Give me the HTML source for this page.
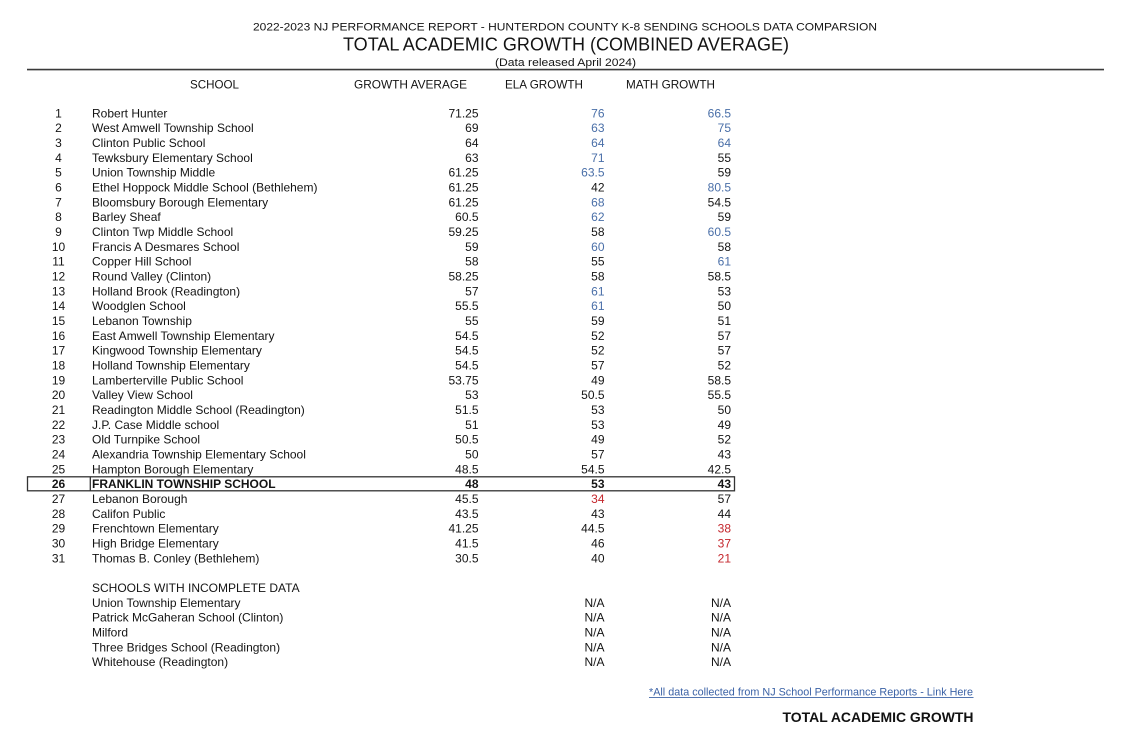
<!DOCTYPE html>
<html><head><meta charset="utf-8"><style>
html,body{margin:0;padding:0;background:#fff;}
svg{display:block;}
text{font-family:"Liberation Sans",Arial,sans-serif;fill:#141414;}
.r{font-size:12px;}
.n{font-size:12px;text-anchor:end;}
.c{font-size:12px;text-anchor:middle;}
.b{fill:#4a6fa8;}
.red{fill:#c4262c;}
</style></head><body>
<svg width="1124" height="739" viewBox="0 0 1124 739" xmlns="http://www.w3.org/2000/svg">
<rect width="1124" height="739" fill="#fff"/>
<text x="253" y="30.7" font-size="11.3" textLength="624" lengthAdjust="spacingAndGlyphs">2022-2023 NJ PERFORMANCE REPORT - HUNTERDON COUNTY K-8 SENDING SCHOOLS DATA COMPARSION</text>
<text x="343" y="50.7" font-size="18.6" textLength="446" lengthAdjust="spacingAndGlyphs">TOTAL ACADEMIC GROWTH (COMBINED AVERAGE)</text>
<text x="495" y="66" font-size="11" textLength="141" lengthAdjust="spacingAndGlyphs">(Data released April 2024)</text>
<line x1="27" y1="69.6" x2="1104" y2="69.6" stroke="#3a3a3a" stroke-width="1.6"/>
<text x="190" y="88.3" font-size="11.6" textLength="49" lengthAdjust="spacingAndGlyphs">SCHOOL</text>
<text x="354" y="88.3" font-size="11.6" textLength="113" lengthAdjust="spacingAndGlyphs">GROWTH AVERAGE</text>
<text x="505" y="88.3" font-size="11.6" textLength="78" lengthAdjust="spacingAndGlyphs">ELA GROWTH</text>
<text x="626" y="88.3" font-size="11.6" textLength="89" lengthAdjust="spacingAndGlyphs">MATH GROWTH</text>

<g>
<text class="c" x="58.5" y="117.3">1</text><text class="r" x="92" y="117.3">Robert Hunter</text><text class="n" x="478.5" y="117.3">71.25</text><text class="n b" x="604.5" y="117.3">76</text><text class="n b" x="731" y="117.3">66.5</text>
<text class="c" x="58.5" y="132.1">2</text><text class="r" x="92" y="132.1">West Amwell Township School</text><text class="n" x="478.5" y="132.1">69</text><text class="n b" x="604.5" y="132.1">63</text><text class="n b" x="731" y="132.1">75</text>
<text class="c" x="58.5" y="147.0">3</text><text class="r" x="92" y="147.0">Clinton Public School</text><text class="n" x="478.5" y="147.0">64</text><text class="n b" x="604.5" y="147.0">64</text><text class="n b" x="731" y="147.0">64</text>
<text class="c" x="58.5" y="161.8">4</text><text class="r" x="92" y="161.8">Tewksbury Elementary School</text><text class="n" x="478.5" y="161.8">63</text><text class="n b" x="604.5" y="161.8">71</text><text class="n" x="731" y="161.8">55</text>
<text class="c" x="58.5" y="176.6">5</text><text class="r" x="92" y="176.6">Union Township Middle</text><text class="n" x="478.5" y="176.6">61.25</text><text class="n b" x="604.5" y="176.6">63.5</text><text class="n" x="731" y="176.6">59</text>
<text class="c" x="58.5" y="191.5">6</text><text class="r" x="92" y="191.5">Ethel Hoppock Middle School (Bethlehem)</text><text class="n" x="478.5" y="191.5">61.25</text><text class="n" x="604.5" y="191.5">42</text><text class="n b" x="731" y="191.5">80.5</text>
<text class="c" x="58.5" y="206.3">7</text><text class="r" x="92" y="206.3">Bloomsbury Borough Elementary</text><text class="n" x="478.5" y="206.3">61.25</text><text class="n b" x="604.5" y="206.3">68</text><text class="n" x="731" y="206.3">54.5</text>
<text class="c" x="58.5" y="221.1">8</text><text class="r" x="92" y="221.1">Barley Sheaf</text><text class="n" x="478.5" y="221.1">60.5</text><text class="n b" x="604.5" y="221.1">62</text><text class="n" x="731" y="221.1">59</text>
<text class="c" x="58.5" y="236.0">9</text><text class="r" x="92" y="236.0">Clinton Twp Middle School</text><text class="n" x="478.5" y="236.0">59.25</text><text class="n" x="604.5" y="236.0">58</text><text class="n b" x="731" y="236.0">60.5</text>
<text class="c" x="58.5" y="250.8">10</text><text class="r" x="92" y="250.8">Francis A Desmares School</text><text class="n" x="478.5" y="250.8">59</text><text class="n b" x="604.5" y="250.8">60</text><text class="n" x="731" y="250.8">58</text>
<text class="c" x="58.5" y="265.6">11</text><text class="r" x="92" y="265.6">Copper Hill School</text><text class="n" x="478.5" y="265.6">58</text><text class="n" x="604.5" y="265.6">55</text><text class="n b" x="731" y="265.6">61</text>
<text class="c" x="58.5" y="280.5">12</text><text class="r" x="92" y="280.5">Round Valley (Clinton)</text><text class="n" x="478.5" y="280.5">58.25</text><text class="n" x="604.5" y="280.5">58</text><text class="n" x="731" y="280.5">58.5</text>
<text class="c" x="58.5" y="295.3">13</text><text class="r" x="92" y="295.3">Holland Brook (Readington)</text><text class="n" x="478.5" y="295.3">57</text><text class="n b" x="604.5" y="295.3">61</text><text class="n" x="731" y="295.3">53</text>
<text class="c" x="58.5" y="310.1">14</text><text class="r" x="92" y="310.1">Woodglen School</text><text class="n" x="478.5" y="310.1">55.5</text><text class="n b" x="604.5" y="310.1">61</text><text class="n" x="731" y="310.1">50</text>
<text class="c" x="58.5" y="325.0">15</text><text class="r" x="92" y="325.0">Lebanon Township</text><text class="n" x="478.5" y="325.0">55</text><text class="n" x="604.5" y="325.0">59</text><text class="n" x="731" y="325.0">51</text>
<text class="c" x="58.5" y="339.8">16</text><text class="r" x="92" y="339.8">East Amwell Township Elementary</text><text class="n" x="478.5" y="339.8">54.5</text><text class="n" x="604.5" y="339.8">52</text><text class="n" x="731" y="339.8">57</text>
<text class="c" x="58.5" y="354.6">17</text><text class="r" x="92" y="354.6">Kingwood Township Elementary</text><text class="n" x="478.5" y="354.6">54.5</text><text class="n" x="604.5" y="354.6">52</text><text class="n" x="731" y="354.6">57</text>
<text class="c" x="58.5" y="369.5">18</text><text class="r" x="92" y="369.5">Holland Township Elementary</text><text class="n" x="478.5" y="369.5">54.5</text><text class="n" x="604.5" y="369.5">57</text><text class="n" x="731" y="369.5">52</text>
<text class="c" x="58.5" y="384.3">19</text><text class="r" x="92" y="384.3">Lamberterville Public School</text><text class="n" x="478.5" y="384.3">53.75</text><text class="n" x="604.5" y="384.3">49</text><text class="n" x="731" y="384.3">58.5</text>
<text class="c" x="58.5" y="399.1">20</text><text class="r" x="92" y="399.1">Valley View School</text><text class="n" x="478.5" y="399.1">53</text><text class="n" x="604.5" y="399.1">50.5</text><text class="n" x="731" y="399.1">55.5</text>
<text class="c" x="58.5" y="414.0">21</text><text class="r" x="92" y="414.0">Readington Middle School (Readington)</text><text class="n" x="478.5" y="414.0">51.5</text><text class="n" x="604.5" y="414.0">53</text><text class="n" x="731" y="414.0">50</text>
<text class="c" x="58.5" y="428.8">22</text><text class="r" x="92" y="428.8">J.P. Case Middle school</text><text class="n" x="478.5" y="428.8">51</text><text class="n" x="604.5" y="428.8">53</text><text class="n" x="731" y="428.8">49</text>
<text class="c" x="58.5" y="443.6">23</text><text class="r" x="92" y="443.6">Old Turnpike School</text><text class="n" x="478.5" y="443.6">50.5</text><text class="n" x="604.5" y="443.6">49</text><text class="n" x="731" y="443.6">52</text>
<text class="c" x="58.5" y="458.5">24</text><text class="r" x="92" y="458.5">Alexandria Township Elementary School</text><text class="n" x="478.5" y="458.5">50</text><text class="n" x="604.5" y="458.5">57</text><text class="n" x="731" y="458.5">43</text>
<text class="c" x="58.5" y="473.3">25</text><text class="r" x="92" y="473.3">Hampton Borough Elementary</text><text class="n" x="478.5" y="473.3">48.5</text><text class="n" x="604.5" y="473.3">54.5</text><text class="n" x="731" y="473.3">42.5</text>
<rect x="27.5" y="476.8" width="707" height="14" fill="none" stroke="#333" stroke-width="1.3"/>
<line x1="90.3" y1="476.8" x2="90.3" y2="490.8" stroke="#333" stroke-width="1.3"/>
<g font-weight="bold">
<text class="c" x="58.5" y="488.1" font-weight="bold">26</text><text class="r" x="92" y="488.1" font-weight="bold">FRANKLIN TOWNSHIP SCHOOL</text><text class="n" x="478.5" y="488.1" font-weight="bold">48</text><text class="n" x="604.5" y="488.1" font-weight="bold">53</text><text class="n" x="731" y="488.1" font-weight="bold">43</text>
</g>
<text class="c" x="58.5" y="503.0">27</text><text class="r" x="92" y="503.0">Lebanon Borough</text><text class="n" x="478.5" y="503.0">45.5</text><text class="n red" x="604.5" y="503.0">34</text><text class="n" x="731" y="503.0">57</text>
<text class="c" x="58.5" y="517.8">28</text><text class="r" x="92" y="517.8">Califon Public</text><text class="n" x="478.5" y="517.8">43.5</text><text class="n" x="604.5" y="517.8">43</text><text class="n" x="731" y="517.8">44</text>
<text class="c" x="58.5" y="532.6">29</text><text class="r" x="92" y="532.6">Frenchtown Elementary</text><text class="n" x="478.5" y="532.6">41.25</text><text class="n" x="604.5" y="532.6">44.5</text><text class="n red" x="731" y="532.6">38</text>
<text class="c" x="58.5" y="547.5">30</text><text class="r" x="92" y="547.5">High Bridge Elementary</text><text class="n" x="478.5" y="547.5">41.5</text><text class="n" x="604.5" y="547.5">46</text><text class="n red" x="731" y="547.5">37</text>
<text class="c" x="58.5" y="562.3">31</text><text class="r" x="92" y="562.3">Thomas B. Conley (Bethlehem)</text><text class="n" x="478.5" y="562.3">30.5</text><text class="n" x="604.5" y="562.3">40</text><text class="n red" x="731" y="562.3">21</text>

<text class="r" x="92" y="591.9">SCHOOLS WITH INCOMPLETE DATA</text>
<text class="r" x="92" y="606.8">Union Township Elementary</text><text class="n" x="604.5" y="606.8">N/A</text><text class="n" x="731" y="606.8">N/A</text>
<text class="r" x="92" y="621.6">Patrick McGaheran School (Clinton)</text><text class="n" x="604.5" y="621.6">N/A</text><text class="n" x="731" y="621.6">N/A</text>
<text class="r" x="92" y="636.4">Milford</text><text class="n" x="604.5" y="636.4">N/A</text><text class="n" x="731" y="636.4">N/A</text>
<text class="r" x="92" y="651.3">Three Bridges School (Readington)</text><text class="n" x="604.5" y="651.3">N/A</text><text class="n" x="731" y="651.3">N/A</text>
<text class="r" x="92" y="666.1">Whitehouse (Readington)</text><text class="n" x="604.5" y="666.1">N/A</text><text class="n" x="731" y="666.1">N/A</text>
</g>

<text x="649" y="695.5" font-size="11" textLength="324" lengthAdjust="spacingAndGlyphs" style="fill:#3b62a6">*All data collected from NJ School Performance Reports - Link Here</text>
<line x1="649" y1="697.6" x2="973.5" y2="697.6" stroke="#3b62a6" stroke-width="0.9"/>
<text x="782.5" y="721.8" font-size="13.8" font-weight="bold" textLength="191" lengthAdjust="spacingAndGlyphs" style="fill:#111">TOTAL ACADEMIC GROWTH</text>
</svg>
</body></html>
